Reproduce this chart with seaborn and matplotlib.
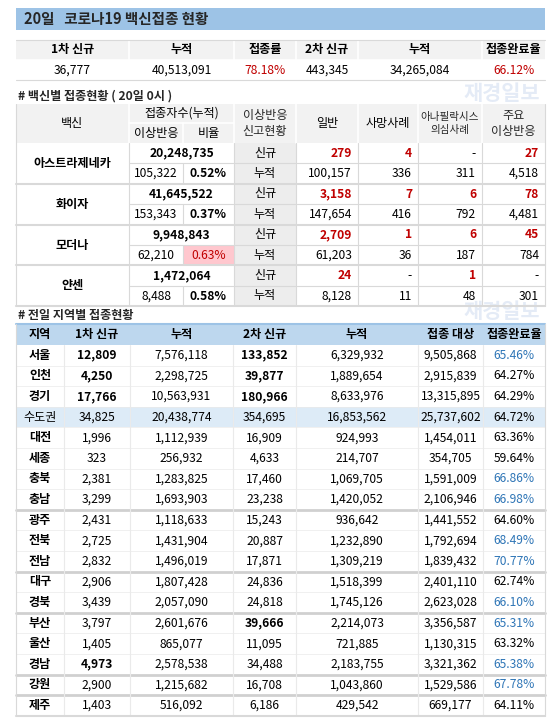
import numpy as np
import pandas as pd
import seaborn as sns
import matplotlib.pyplot as plt
from matplotlib.patches import Rectangle

sns.set_style('white')
plt.rcParams['font.family'] = ['Noto Sans CJK KR', 'DejaVu Sans']

# ---- data ----
title = '20일   코로나19 백신접종 현황'
top_headers = ['1차 신규', '누적', '접종률', '2차 신규', '누적', '접종완료율']
top_values = ['36,777', '40,513,091', '78.18%', '443,345', '34,265,084', '66.12%']

vaccines = ['아스트라제네카', '화이자', '모더나', '얀센']
vac_total = ['20,248,735', '41,645,522', '9,948,843', '1,472,064']
vac_adverse = ['105,322', '153,343', '62,210', '8,488']
vac_ratio = ['0.52%', '0.37%', '0.63%', '0.58%']
vac_new = [['279', '4', '-', '27'], ['3,158', '7', '6', '78'],
           ['2,709', '1', '6', '45'], ['24', '-', '1', '-']]
vac_cum = [['100,157', '336', '311', '4,518'], ['147,654', '416', '792', '4,481'],
           ['61,203', '36', '187', '784'], ['8,128', '11', '48', '301']]

reg_headers = ['지역', '1차 신규', '누적', '2차 신규', '누적', '접종 대상', '접종완료율']
regions = ['서울', '인천', '경기', '수도권', '대전', '세종', '충북', '충남', '광주', '전북',
           '전남', '대구', '경북', '부산', '울산', '경남', '강원', '제주']
first_new = ['12,809', '4,250', '17,766', '34,825', '1,996', '323', '2,381', '3,299', '2,431',
             '2,725', '2,832', '2,906', '3,439', '3,797', '1,405', '4,973', '2,900', '1,403']
first_cum = ['7,576,118', '2,298,725', '10,563,931', '20,438,774', '1,112,939', '256,932',
             '1,283,825', '1,693,903', '1,118,633', '1,431,904', '1,496,019', '1,807,428',
             '2,057,090', '2,601,676', '865,077', '2,578,538', '1,215,682', '516,092']
second_new = ['133,852', '39,877', '180,966', '354,695', '16,909', '4,633', '17,460', '23,238',
              '15,243', '20,887', '17,871', '24,836', '24,818', '39,666', '11,095', '34,488',
              '16,708', '6,186']
second_cum = ['6,329,932', '1,889,654', '8,633,976', '16,853,562', '924,993', '214,707',
              '1,069,705', '1,420,052', '936,642', '1,232,890', '1,309,219', '1,518,399',
              '1,745,126', '2,214,073', '721,885', '2,183,755', '1,043,860', '429,542']
target = ['9,505,868', '2,915,839', '13,315,895', '25,737,602', '1,454,011', '354,705',
          '1,591,009', '2,106,946', '1,441,552', '1,792,694', '1,839,432', '2,401,110',
          '2,623,028', '3,356,587', '1,130,315', '3,321,362', '1,529,586', '669,177']
rate = ['65.46%', '64.27%', '64.29%', '64.72%', '63.36%', '59.64%', '66.86%', '66.98%',
        '64.60%', '68.49%', '70.77%', '62.74%', '66.10%', '65.31%', '63.32%', '65.38%',
        '67.78%', '64.11%']
bold_first = ['서울', '인천', '경기', '경남']
bold_second = ['서울', '인천', '경기', '부산']
group_ends = ['충남', '전남', '경북', '경남', '강원']

RED = '#C00000'
BLUE = '#2E75B6'
LINE = '#D9D9D9'
FS = 8.7

fig = plt.figure(figsize=(5.5, 7.24), dpi=100)
ax = fig.add_axes([0, 0, 1, 1])
ax.set_xlim(0, 550)
ax.set_ylim(724, 0)
ax.axis('off')


def cell(x0, x1, y0, y1, text='', color='black', bold=False, fc=None, ha='center', fs=FS):
    if fc is not None:
        ax.add_patch(Rectangle((x0, y0), x1 - x0, y1 - y0, fc=fc, ec='none', zorder=1))
    if text:
        xt = (x0 + x1) / 2 if ha == 'center' else x1 - 6
        ax.text(xt, (y0 + y1) / 2, text, ha=ha, va='center', color=color, fontsize=fs,
                fontweight='bold' if bold else 'normal', zorder=3)


def hline(y, x0, x1, lw=0.8, c=LINE):
    ax.plot([x0, x1], [y, y], color=c, lw=lw, zorder=2)


def vline(x, y0, y1, lw=0.8, c=LINE):
    ax.plot([x, x], [y0, y1], color=c, lw=lw, zorder=2)


L, R = 16, 545

# title bar
ax.add_patch(Rectangle((L, 8), R - L, 22, fc='#9DC3E6', ec='none'))
ax.text(24, 19, title, va='center', fontsize=10.5, fontweight='bold')

# top summary table
tx = [L, 129, 234, 296, 358, 482, R]
for i in range(6):
    cell(tx[i], tx[i + 1], 40, 60, top_headers[i], bold=True, fc='#F2F2F2')
    c = RED if '%' in top_values[i] else 'black'
    cell(tx[i], tx[i + 1], 60, 80, top_values[i], color=c)
for x in tx[1:-1]:
    vline(x, 40, 80, c='white', lw=1.2)
hline(60, L, R, c='white', lw=1.2)
hline(80, L, R)
hline(40, L, R)

# watermark
for wy in [93, 312]:
    ax.text(540, wy, '재경일보', ha='right', va='center', fontsize=15, fontweight='bold',
            color='#B4C7E7', alpha=0.35, zorder=0)

ax.text(18, 96, '# 백신별 접종현황 ( 20일 0시 )', va='center', fontsize=FS, fontweight='bold')

# vaccine table
vx = [L, 129, 183, 234, 296, 358, 418, 482, R]
hy0, hmid, hy1 = 104, 123, 143
ax.add_patch(Rectangle((L, hy0), R - L, hy1 - hy0, fc='#F2F2F2', ec='none'))
cell(vx[0], vx[1], hy0, hy1, '백신')
cell(vx[1], vx[3], hy0, hmid, '접종자수(누적)')
cell(vx[1], vx[2], hmid, hy1, '이상반응')
cell(vx[2], vx[3], hmid, hy1, '비율')
ax.text((vx[3] + vx[4]) / 2, (hy0 + hy1) / 2, '이상반응\n신고현황', ha='center', va='center',
        fontsize=FS, linespacing=1.3)
cell(vx[4], vx[5], hy0, hy1, '일반')
cell(vx[5], vx[6], hy0, hy1, '사망사례')
ax.text((vx[6] + vx[7]) / 2, (hy0 + hy1) / 2, '아나필락시스\n의심사례', ha='center',
        va='center', fontsize=7.6, linespacing=1.4)
ax.text((vx[7] + vx[8]) / 2, (hy0 + hy1) / 2, '주요\n이상반응', ha='center', va='center',
        fontsize=FS, linespacing=1.3)
for x in vx[1:-1]:
    if x == vx[2]:
        vline(x, hmid, hy1, c='white', lw=1.2)
    else:
        vline(x, hy0, hy1, c='white', lw=1.2)
hline(hmid, vx[1], vx[3], c='white', lw=1.2)

rh = 20.4
for k, v in enumerate(vaccines):
    y0 = hy1 + 2 * k * rh
    ym = y0 + rh
    y1 = y0 + 2 * rh
    cell(vx[0], vx[1], y0, y1, v, bold=True)
    cell(vx[1], vx[3], y0, ym, vac_total[k], bold=True)
    cell(vx[1], vx[2], ym, y1, vac_adverse[k])
    pink = '#FFC7CE' if k == 2 else None
    cell(vx[2], vx[3], ym, y1, vac_ratio[k], bold=(k != 2), color=RED if k == 2 else 'black',
         fc=pink)
    cell(vx[3], vx[4], y0, ym, '신규', fc='#EDEDED')
    cell(vx[3], vx[4], ym, y1, '누적', fc='#EDEDED')
    for j in range(4):
        t = vac_new[k][j]
        cell(vx[4 + j], vx[5 + j], y0, ym, t, bold=(t != '-'),
             color=RED if t != '-' else 'black', ha='right')
        cell(vx[4 + j], vx[5 + j], ym, y1, vac_cum[k][j], ha='right')
    hline(ym, vx[1], R)
    hline(y1, L, R, lw=1.5)
    vline(vx[2], ym, y1)
for x in vx[1:-1]:
    if x != vx[2]:
        vline(x, hy1, hy1 + 8 * rh)
vline(L, hy0, hy1 + 8 * rh)
vline(R, hy0, hy1 + 8 * rh)

ax.text(18, 315, '# 전일 지역별 접종현황', va='center', fontsize=FS, fontweight='bold')

# region table
gx = [L, 64, 130, 233, 296, 418, 483, R]
gy0, gy1 = 324, 345
ax.add_patch(Rectangle((L, gy0), R - L, gy1 - gy0, fc='#BDD7EE', ec='none'))
hline(gy0, L, R, c='#9DC3E6', lw=1.5)
for i, h in enumerate(reg_headers):
    cell(gx[i], gx[i + 1], gy0, gy1, h, bold=True)

df = pd.DataFrame({'region': regions, 'first_new': first_new, 'first_cum': first_cum,
                   'second_new': second_new, 'second_cum': second_cum,
                   'target': target, 'rate': rate})
rr = 20.6
for i, row in df.iterrows():
    y0 = gy1 + i * rr
    y1 = y0 + rr
    if row['region'] == '수도권':
        ax.add_patch(Rectangle((L, y0), R - L, rr, fc='#DDEBF7', ec='none'))
    cell(gx[0], gx[1], y0, y1, row['region'], bold=row['region'] != '수도권')
    cell(gx[1], gx[2], y0, y1, row['first_new'], bold=row['region'] in bold_first)
    cell(gx[2], gx[3], y0, y1, row['first_cum'])
    cell(gx[3], gx[4], y0, y1, row['second_new'], bold=row['region'] in bold_second)
    cell(gx[4], gx[5], y0, y1, row['second_cum'])
    cell(gx[5], gx[6], y0, y1, row['target'])
    is_blue = float(row['rate'].rstrip('%')) >= 65 and row['region'] != '수도권'
    cell(gx[6], gx[7], y0, y1, row['rate'], color=BLUE if is_blue else 'black')
    thick = row['region'] in group_ends
    hline(y1, L, R, lw=2.0 if thick else 0.5, c='#D0D0D0' if thick else '#EAEAEA')
yb = gy1 + len(regions) * rr
for x in gx[1:-1]:
    vline(x, gy1, yb, c='#EAEAEA')
vline(L, gy0, yb)
vline(R, gy0, yb)
hline(yb, L, R, lw=1.5)

fig.savefig('out.png', dpi=100)
